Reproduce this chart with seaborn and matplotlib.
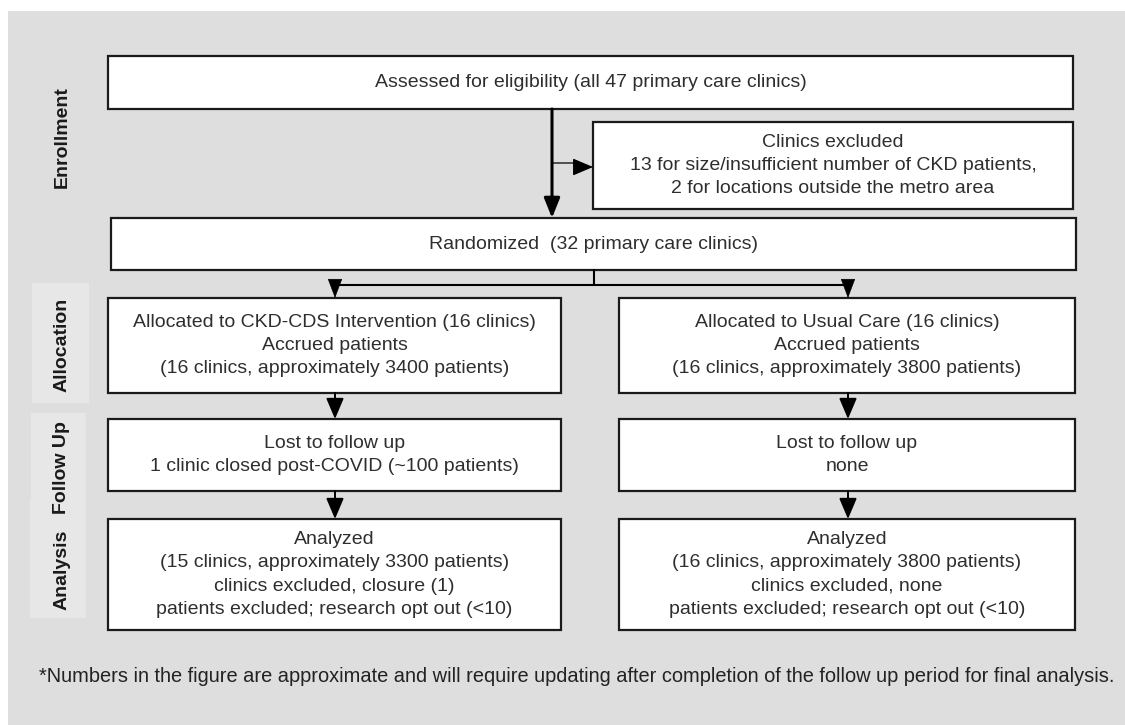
# CONSORT-style flow diagram of the CKD-CDS clinic randomization
import matplotlib
matplotlib.use('Agg')
import matplotlib.pyplot as plt
import matplotlib.patches as patches
import seaborn as sns

# ---- content ----
stage_labels = ['Enrollment', 'Allocation', 'Follow Up', 'Analysis']
assessed_text = 'Assessed for eligibility (all 47 primary care clinics)'
excluded_text = ['Clinics excluded',
                 '13 for size/insufficient number of CKD patients,',
                 '2 for locations outside the metro area']
randomized_text = 'Randomized  (32 primary care clinics)'
arm_alloc = [['Allocated to CKD-CDS Intervention (16 clinics)',
              'Accrued patients',
              '(16 clinics, approximately 3400 patients)'],
             ['Allocated to Usual Care (16 clinics)',
              'Accrued patients',
              '(16 clinics, approximately 3800 patients)']]
arm_follow = [['Lost to follow up', '1 clinic closed post-COVID (~100 patients)'],
              ['Lost to follow up', 'none']]
arm_analysis = [['Analyzed', '(15 clinics, approximately 3300 patients)',
                 'clinics excluded, closure (1)',
                 'patients excluded; research opt out (<10)'],
                ['Analyzed', '(16 clinics, approximately 3800 patients)',
                 'clinics excluded, none',
                 'patients excluded; research opt out (<10)']]
footnote = ('*Numbers in the figure are approximate and will require updating '
            'after completion of the follow up period for final analysis.')

# ---- layout (pixel units, y downwards) ----
arm_x = [(108, 561), (619, 1075)]
arm_cx = [335, 848]
row_y = {'alloc': (298, 393), 'follow': (419, 491), 'analysis': (519, 630)}
label_boxes = [None, (32, 283, 89, 403), (31, 413, 86, 500), (30, 500, 86, 618)]
label_cy = [137, 345, 468, 570]

BG = '#dedede'
LABEL_BG = '#e7e7e7'
EDGE = '#1a1a1a'
TXT = '#2e2e2e'
FS = 14

sns.set_theme(style='white')
plt.rcParams['font.family'] = ['Liberation Sans', 'DejaVu Sans']

fig = plt.figure(figsize=(11.25, 7.25), dpi=100)
ax = fig.add_axes([0, 0, 1, 1])
ax.set_xlim(0, 1125)
ax.set_ylim(725, 0)
ax.axis('off')

# grey panel
ax.add_patch(patches.Rectangle((8, 11), 1125 - 8, 725 - 11, facecolor=BG, edgecolor='none'))


def box(x0, y0, x1, y1, lines, fs=FS):
    ax.add_patch(patches.Rectangle((x0, y0), x1 - x0, y1 - y0, facecolor='white',
                                   edgecolor=EDGE, linewidth=1.6, zorder=2))
    ax.text((x0 + x1) / 2, (y0 + y1) / 2, '\n'.join(lines), ha='center', va='center',
            fontsize=fs, color=TXT, linespacing=1.47, zorder=3)


def arrow(x0, y0, x1, y1, lw=1.4, hl=0.85, hw=0.36, ms=15):
    ax.annotate('', xy=(x1, y1), xytext=(x0, y0),
                arrowprops=dict(arrowstyle='-|>,head_length=%s,head_width=%s' % (hl, hw),
                                color='black', lw=lw, shrinkA=0, shrinkB=0,
                                mutation_scale=ms), zorder=4)


# stage labels
for lab, bx, cy in zip(stage_labels, label_boxes, label_cy):
    if bx is not None:
        ax.add_patch(patches.Rectangle((bx[0], bx[1]), bx[2] - bx[0], bx[3] - bx[1],
                                       facecolor=LABEL_BG, edgecolor='none'))
    ax.text(62, cy, lab, rotation=90, ha='center', va='center', fontsize=14,
            fontweight='bold', color='#1a1a1a')

# enrollment
box(108, 56, 1073, 109, [assessed_text])
box(593, 122, 1073, 209, excluded_text)
box(111, 218, 1076, 270, [randomized_text])

arrow(552, 109, 552, 218, lw=2.2, hl=0.8, hw=0.32, ms=15)
ax.plot([553, 573, 577, 581], [163, 163, 167, 167], color='black', lw=0.9)
arrow(580, 167, 593, 167, lw=0.9, hl=0.85, hw=0.36, ms=15)

# split to the two arms
ax.plot([594, 594], [270, 285], color='black', lw=1.5)
ax.plot([arm_cx[0], arm_cx[1]], [285, 285], color='black', lw=1.5)
for cx in arm_cx:
    arrow(cx, 284.5, cx, 298, lw=0.5, hl=0.85, hw=0.32, ms=15)

# arm boxes
for i in range(2):
    x0, x1 = arm_x[i]
    for key, lines in zip(['alloc', 'follow', 'analysis'],
                          [arm_alloc[i], arm_follow[i], arm_analysis[i]]):
        box(x0, row_y[key][0], x1, row_y[key][1], lines)
    arrow(arm_cx[i], row_y['alloc'][1], arm_cx[i], row_y['follow'][0], lw=1.4)
    arrow(arm_cx[i], row_y['follow'][1], arm_cx[i], row_y['analysis'][0], lw=1.4)

# footnote
ax.text(577, 677, footnote, ha='center', va='center', fontsize=14.4, color='#222222')

plt.savefig('out.png', dpi=100)
